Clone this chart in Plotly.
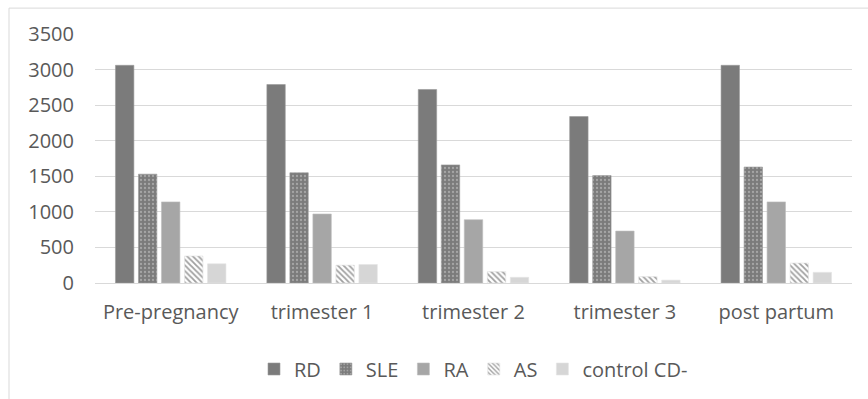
import plotly.graph_objects as go

# Periods on the category axis
periods = ["Pre-pregnancy", "trimester 1", "trimester 2", "trimester 3", "post partum"]

# Values per group
rd = [3060, 2790, 2720, 2340, 3060]
sle = [1530, 1550, 1660, 1510, 1630]
ra = [1140, 970, 890, 730, 1140]
as_vals = [380, 250, 160, 90, 280]
control_cd = [270, 260, 80, 40, 150]

y_ticks = [0, 500, 1000, 1500, 2000, 2500, 3000, 3500]

FONT = "Open Sans, Noto Sans CJK KR, sans-serif"
TEXT = "#595959"
GRID = "#d9d9d9"
FS = 20

fig = go.Figure()
fig.add_trace(go.Bar(name="RD", x=periods, y=rd,
                     marker=dict(color="#7b7b7b", line=dict(color="#9a9a9a", width=0.6))))
fig.add_trace(go.Bar(name="SLE", x=periods, y=sle,
                     marker=dict(color="#7b7b7b", line=dict(color="#9a9a9a", width=0.6),
                                 pattern=dict(shape=".", bgcolor="#7b7b7b", fgcolor="#d0d0d0",
                                              size=4, solidity=0.25, fillmode="overlay"))))
fig.add_trace(go.Bar(name="RA", x=periods, y=ra,
                     marker=dict(color="#a6a6a6", line=dict(color="#bdbdbd", width=0.6))))
fig.add_trace(go.Bar(name="AS", x=periods, y=as_vals,
                     marker=dict(color="#9a9a9a", line=dict(color="#e0e0e0", width=0.6),
                                 pattern=dict(shape="\\", bgcolor="#ffffff", fgcolor="#a0a0a0",
                                              size=4, solidity=0.45, fillmode="replace"))))
fig.add_trace(go.Bar(name="control CD-", x=periods, y=control_cd,
                     marker=dict(color="#d6d6d6", line=dict(color="#e4e4e4", width=0.6))))

# Chart-area border (left and top edges visible)
border = dict(type="line", xref="paper", yref="paper", line=dict(color=GRID, width=1))
fig.add_shape(**border, x0=-0.1136, x1=-0.1136, y0=-1.2, y1=1.104)
fig.add_shape(**border, x0=-0.1136, x1=1.2, y0=1.104, y1=1.104)

fig.update_layout(
    width=868, height=399,
    margin=dict(l=95, r=16, t=34, b=115),
    paper_bgcolor="white", plot_bgcolor="white",
    barmode="group", bargap=0.24, bargroupgap=0.2,
    font=dict(family=FONT, size=FS, color=TEXT),
    showlegend=True,
    legend=dict(orientation="h", x=0.5, xanchor="center", y=-0.34, yanchor="middle",
                font=dict(family=FONT, size=FS, color=TEXT),
                itemwidth=30, traceorder="normal"),
)
fig.update_xaxes(showline=True, linecolor=GRID, linewidth=1, ticks="",
                 showgrid=False, ticklabelstandoff=11,
                 tickfont=dict(family=FONT, size=FS, color=TEXT))
fig.update_yaxes(range=[0, 3500], tickvals=y_ticks, showgrid=True, gridcolor=GRID,
                 gridwidth=1, zeroline=False, showline=False, ticks="",
                 ticklabelstandoff=20,
                 tickfont=dict(family=FONT, size=FS, color=TEXT))

fig.write_html("out.html")
